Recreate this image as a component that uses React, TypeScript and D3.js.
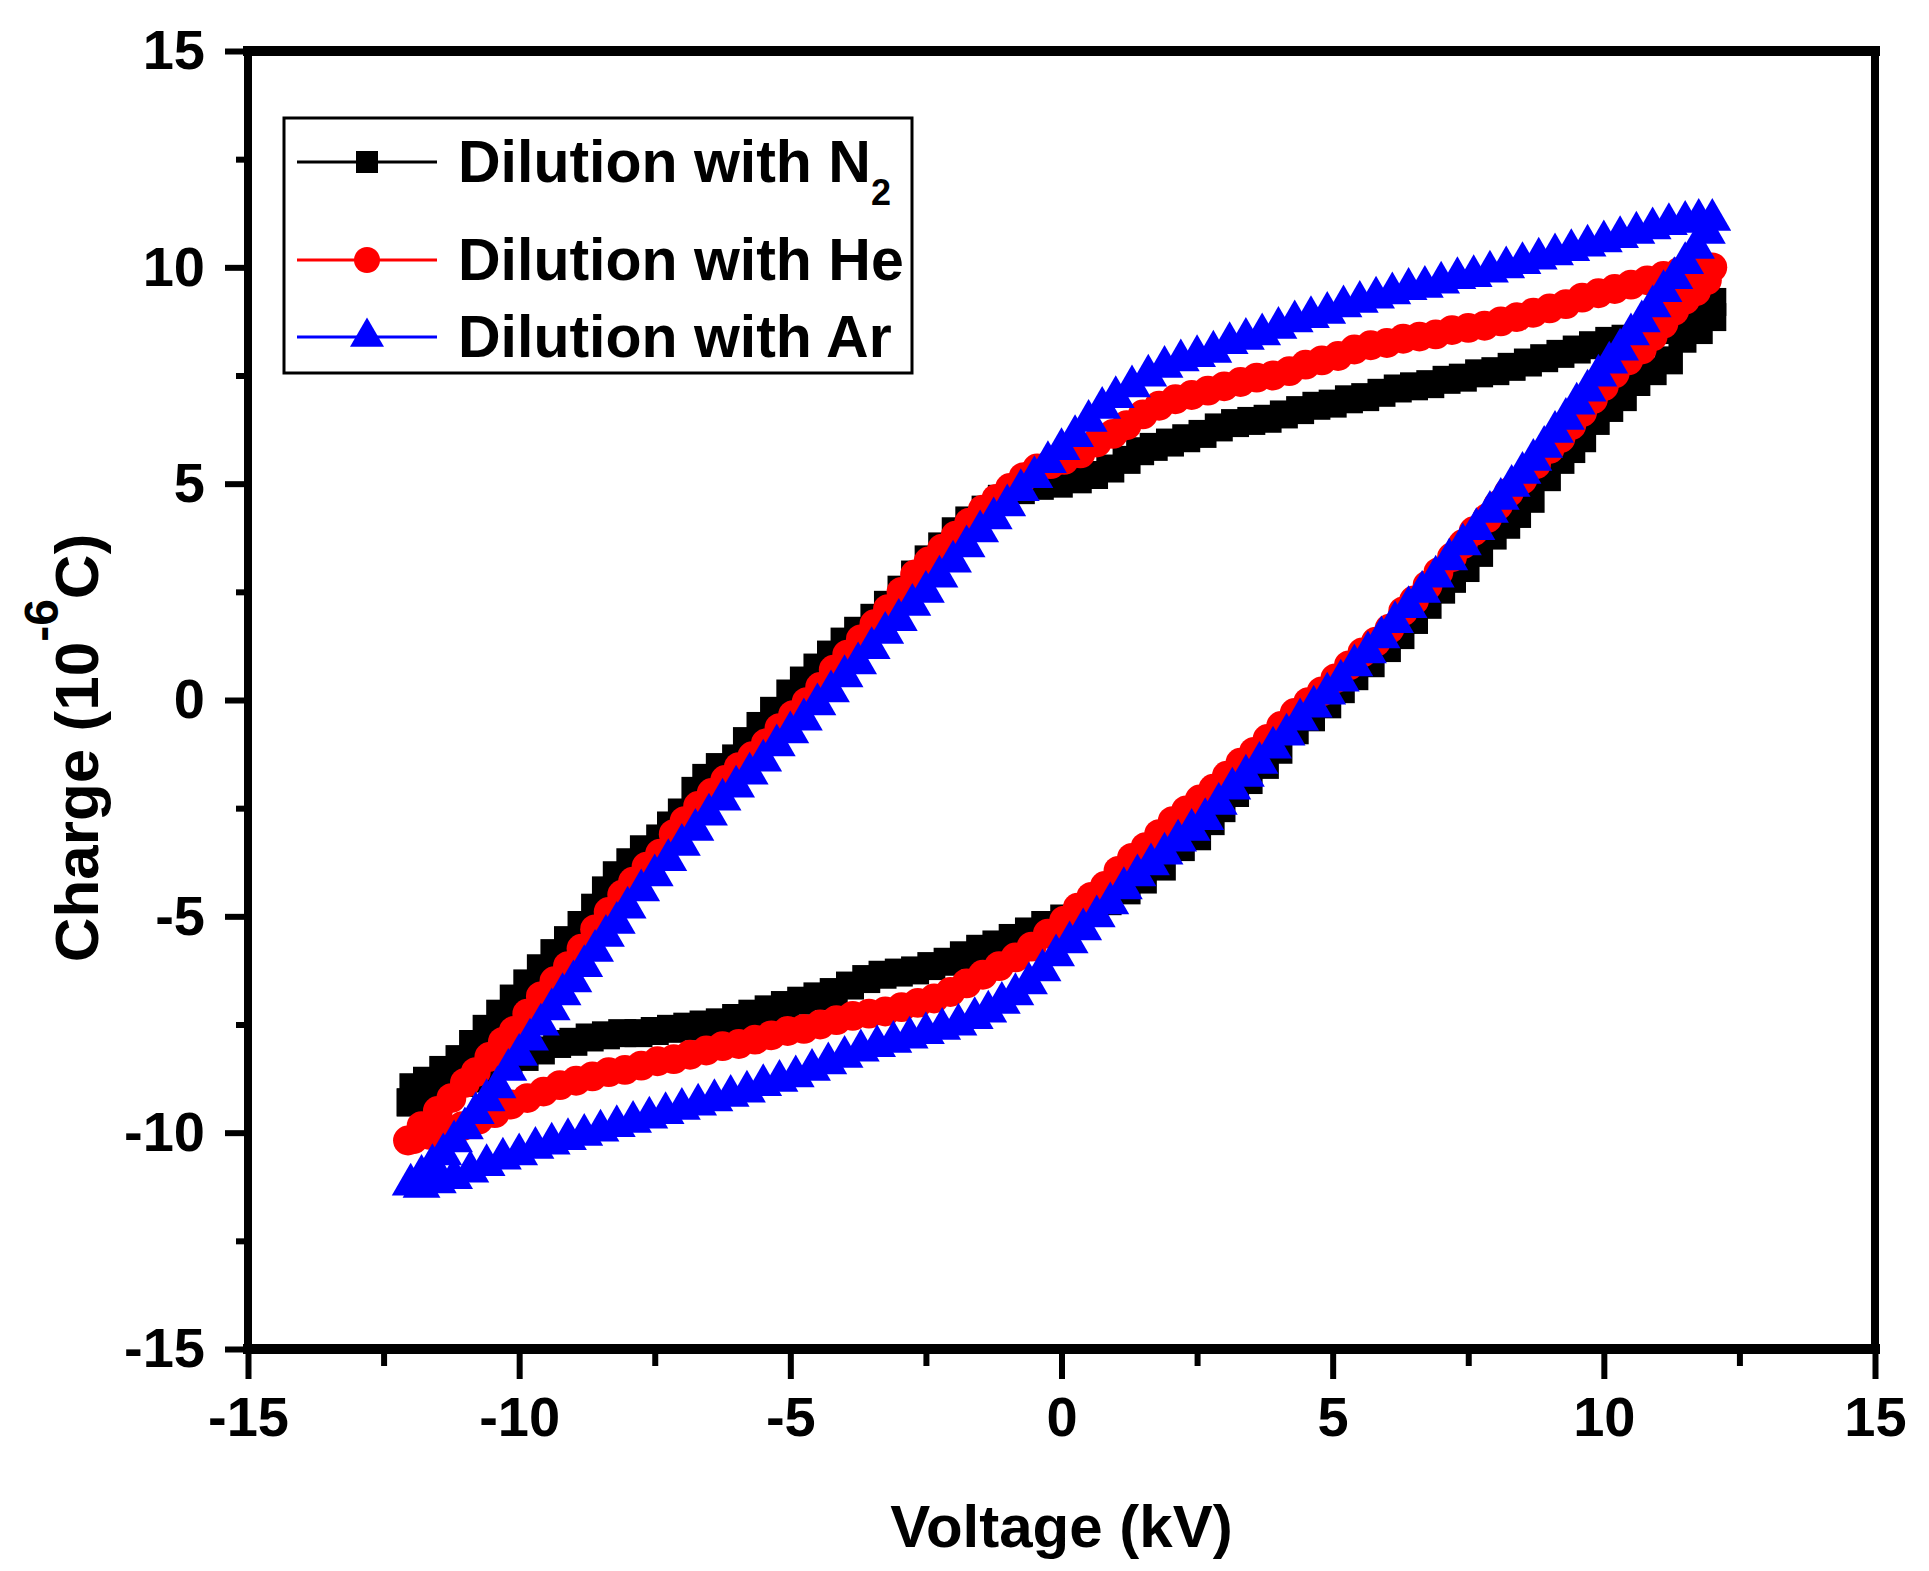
import { useEffect, useRef } from "react";
import * as d3 from "d3";

type Pt = [number, number];

const majorTicks = [-15, -10, -5, 0, 5, 10, 15];
const minorTicks = [-12.5, -7.5, -2.5, 2.5, 7.5, 12.5];

// Dilution with N2 : [voltage kV, charge 1e-6 C]
const n2Loop: Pt[] = [
  [-12.0, -9.3], [-11.95, -8.95], [-11.7, -8.8], [-11.4, -8.55], [-11.1, -8.3], [-10.85, -7.95], [-10.6, -7.6], [-10.35, -7.25],
  [-10.1, -6.9], [-9.85, -6.55], [-9.6, -6.2], [-9.35, -5.85], [-9.1, -5.55], [-8.85, -5.2], [-8.6, -4.8], [-8.4, -4.4],
  [-8.2, -4.05], [-7.95, -3.75], [-7.7, -3.45], [-7.4, -3.2], [-7.2, -2.9], [-7.0, -2.6], [-6.75, -2.1], [-6.55, -1.8],
  [-6.3, -1.55], [-6.0, -1.35], [-5.8, -0.95], [-5.55, -0.6], [-5.3, -0.25], [-5.0, 0.15], [-4.75, 0.45], [-4.5, 0.75],
  [-4.25, 1.05], [-4.0, 1.35], [-3.75, 1.6], [-3.45, 1.9], [-3.2, 2.2], [-2.95, 2.55], [-2.7, 2.9], [-2.45, 3.25],
  [-2.2, 3.55], [-1.95, 3.9], [-1.7, 4.15], [-1.4, 4.4], [-1.1, 4.65], [-0.75, 4.85], [-0.4, 4.95],
  [-0.05, 5.0], [0.3, 5.1], [0.6, 5.2], [0.9, 5.35], [1.2, 5.55], [1.45, 5.75], [1.7, 5.85], [2.0, 5.95],
  [2.3, 6.05], [2.6, 6.15], [2.9, 6.3], [3.2, 6.4], [3.5, 6.45], [3.8, 6.5], [4.1, 6.6], [4.4, 6.7],
  [4.7, 6.8], [5.0, 6.85], [5.3, 6.95], [5.6, 7.0], [5.9, 7.1], [6.2, 7.2], [6.5, 7.25], [6.8, 7.3],
  [7.1, 7.4], [7.4, 7.45], [7.7, 7.55], [8.0, 7.6], [8.3, 7.7], [8.6, 7.8], [8.9, 7.9], [9.2, 8.0],
  [9.5, 8.1], [9.8, 8.2], [10.1, 8.3], [10.4, 8.35], [10.7, 8.45], [11.0, 8.55], [11.3, 8.65], [11.6, 8.8],
  [11.85, 8.95], [12.0, 9.2],
  [12.0, 8.85], [11.75, 8.55], [11.45, 8.35], [11.2, 7.85], [10.9, 7.6], [10.6, 7.35], [10.35, 7.0], [10.1, 6.75],
  [9.85, 6.45], [9.6, 6.05], [9.4, 5.8], [9.2, 5.55], [8.95, 5.15], [8.65, 4.65], [8.4, 4.3], [8.2, 4.05],
  [7.95, 3.8], [7.7, 3.4], [7.45, 3.05], [7.2, 2.8], [7.0, 2.55], [6.75, 2.2], [6.5, 1.85], [6.25, 1.5],
  [6.0, 1.2], [5.7, 0.85], [5.4, 0.55], [5.15, 0.25], [4.9, -0.1], [4.6, -0.4], [4.3, -0.7], [4.0, -1.15],
  [3.75, -1.5], [3.45, -1.85], [3.2, -2.15], [2.95, -2.5], [2.75, -2.8], [2.5, -3.15], [2.2, -3.4], [1.85, -3.85],
  [1.5, -4.15], [1.2, -4.4], [0.85, -4.65], [0.45, -4.85],
  [0.05, -5.05], [-0.3, -5.2], [-0.6, -5.35], [-0.9, -5.5], [-1.2, -5.65], [-1.5, -5.75], [-1.8, -5.9], [-2.1, -6.05],
  [-2.4, -6.15], [-2.7, -6.25], [-3.0, -6.3], [-3.3, -6.35], [-3.6, -6.45], [-3.9, -6.6], [-4.2, -6.75], [-4.5, -6.85],
  [-4.8, -6.95], [-5.1, -7.05], [-5.4, -7.15], [-5.7, -7.25], [-6.0, -7.35], [-6.3, -7.45], [-6.6, -7.5], [-6.9, -7.55],
  [-7.2, -7.6], [-7.5, -7.65], [-7.8, -7.7], [-8.1, -7.7], [-8.4, -7.75], [-8.7, -7.8], [-9.0, -7.9], [-9.3, -7.95],
  [-9.6, -8.1], [-9.9, -8.25], [-10.2, -8.4], [-10.5, -8.55], [-10.8, -8.75], [-11.1, -8.85], [-11.4, -9.0], [-11.7, -9.15],
  [-12.0, -9.3],
];

// Dilution with He
const heLoop: Pt[] = [
  [-12.05, -10.18], [-11.8, -9.85], [-11.5, -9.5], [-11.25, -9.2], [-11.0, -8.85], [-10.8, -8.6], [-10.55, -8.25], [-10.3, -7.9],
  [-10.1, -7.65], [-9.85, -7.25], [-9.6, -6.85], [-9.35, -6.5], [-9.1, -6.15], [-8.85, -5.75], [-8.6, -5.3], [-8.35, -4.9],
  [-8.1, -4.5], [-7.9, -4.2], [-7.65, -3.85], [-7.4, -3.55], [-7.15, -3.1], [-6.95, -2.8], [-6.7, -2.45], [-6.45, -2.15],
  [-6.2, -1.85], [-5.95, -1.55], [-5.7, -1.3], [-5.45, -1.0], [-5.2, -0.65], [-4.95, -0.35], [-4.7, -0.05], [-4.45, 0.3],
  [-4.2, 0.7], [-3.95, 1.05], [-3.7, 1.4], [-3.45, 1.75], [-3.2, 2.1], [-2.95, 2.5], [-2.7, 2.9], [-2.45, 3.2],
  [-2.2, 3.5], [-1.95, 3.8], [-1.7, 4.1], [-1.45, 4.4], [-1.2, 4.65], [-0.95, 4.9], [-0.7, 5.15], [-0.45, 5.35],
  [-0.2, 5.45],
  [0.05, 5.55], [0.35, 5.7], [0.65, 5.95], [0.95, 6.15], [1.2, 6.35], [1.5, 6.6], [1.8, 6.8], [2.1, 6.95],
  [2.4, 7.05], [2.7, 7.15], [3.0, 7.25], [3.3, 7.35], [3.6, 7.45], [3.9, 7.5], [4.2, 7.6], [4.5, 7.75],
  [4.8, 7.85], [5.1, 7.95], [5.4, 8.1], [5.7, 8.2], [6.0, 8.25], [6.3, 8.35], [6.6, 8.4], [6.9, 8.45],
  [7.2, 8.55], [7.5, 8.6], [7.8, 8.65], [8.1, 8.75], [8.4, 8.85], [8.7, 8.95], [9.0, 9.05], [9.3, 9.15],
  [9.6, 9.3], [9.9, 9.4], [10.2, 9.5], [10.5, 9.6], [10.8, 9.7], [11.1, 9.8], [11.4, 9.9], [11.7, 9.95],
  [12.0, 10.0],
  [11.9, 9.7], [11.7, 9.45], [11.5, 9.25], [11.3, 9.0], [11.1, 8.7], [10.9, 8.4], [10.7, 8.1], [10.45, 7.85],
  [10.2, 7.55], [10.0, 7.25], [9.8, 6.95], [9.6, 6.65], [9.4, 6.35], [9.2, 6.05], [9.0, 5.8], [8.75, 5.45],
  [8.5, 5.1], [8.25, 4.8], [8.05, 4.5], [7.85, 4.2], [7.6, 3.9], [7.4, 3.6], [7.2, 3.3], [6.95, 2.95],
  [6.75, 2.65], [6.5, 2.3], [6.3, 2.05], [6.05, 1.65], [5.8, 1.35], [5.55, 1.1], [5.3, 0.8], [5.05, 0.5],
  [4.8, 0.2], [4.55, -0.05], [4.3, -0.3], [4.05, -0.6], [3.8, -0.9], [3.55, -1.2], [3.3, -1.45], [3.05, -1.75],
  [2.8, -2.05], [2.55, -2.3], [2.3, -2.55], [2.05, -2.8], [1.8, -3.1], [1.55, -3.4], [1.3, -3.65], [1.05, -3.95],
  [0.8, -4.3], [0.55, -4.55], [0.3, -4.8], [0.05, -5.1],
  [-0.25, -5.4], [-0.55, -5.7], [-0.85, -5.95], [-1.15, -6.15], [-1.45, -6.35], [-1.75, -6.55], [-2.05, -6.75], [-2.35, -6.9],
  [-2.65, -7.0], [-2.95, -7.1], [-3.25, -7.2], [-3.55, -7.25], [-3.85, -7.3], [-4.15, -7.4], [-4.45, -7.5], [-4.75, -7.6],
  [-5.05, -7.65], [-5.35, -7.75], [-5.65, -7.85], [-5.95, -7.95], [-6.25, -8.0], [-6.55, -8.1], [-6.85, -8.2], [-7.15, -8.3],
  [-7.45, -8.35], [-7.75, -8.45], [-8.05, -8.55], [-8.35, -8.6], [-8.65, -8.7], [-8.95, -8.8], [-9.25, -8.9], [-9.55, -9.05],
  [-9.85, -9.2], [-10.15, -9.35], [-10.45, -9.55], [-10.75, -9.7], [-11.05, -9.85], [-11.35, -9.95], [-11.65, -10.05], [-11.95, -10.15],
];

// Dilution with Ar
const arLoop: Pt[] = [
  [-12.0, -11.2], [-11.8, -11.0], [-11.6, -10.75], [-11.4, -10.5], [-11.2, -10.2], [-11.0, -9.9], [-10.8, -9.55], [-10.6, -9.25],
  [-10.4, -8.95], [-10.2, -8.55], [-10.0, -8.2], [-9.8, -7.85], [-9.6, -7.5], [-9.4, -7.15], [-9.2, -6.8], [-9.0, -6.5],
  [-8.8, -6.15], [-8.6, -5.8], [-8.4, -5.45], [-8.2, -5.15], [-8.0, -4.8], [-7.75, -4.4], [-7.5, -4.05], [-7.25, -3.7],
  [-7.0, -3.35], [-6.75, -3.0], [-6.5, -2.65], [-6.25, -2.3], [-6.0, -2.0], [-5.75, -1.7], [-5.5, -1.4], [-5.25, -1.05],
  [-5.0, -0.75], [-4.75, -0.45], [-4.5, -0.1], [-4.25, 0.2], [-4.0, 0.55], [-3.75, 0.85], [-3.5, 1.2], [-3.25, 1.55],
  [-3.0, 1.85], [-2.75, 2.2], [-2.5, 2.5], [-2.25, 2.85], [-2.0, 3.2], [-1.75, 3.55], [-1.5, 3.9], [-1.25, 4.2],
  [-1.0, 4.5], [-0.75, 4.85], [-0.5, 5.15], [-0.25, 5.5], [0.0, 5.8],
  [0.25, 6.1], [0.5, 6.45], [0.75, 6.75], [1.0, 7.0], [1.3, 7.25], [1.6, 7.5], [1.9, 7.7], [2.2, 7.85],
  [2.5, 7.95], [2.8, 8.05], [3.1, 8.25], [3.4, 8.35], [3.7, 8.45], [4.0, 8.6], [4.3, 8.75], [4.6, 8.85],
  [4.9, 8.95], [5.2, 9.1], [5.5, 9.2], [5.8, 9.3], [6.1, 9.4], [6.4, 9.5], [6.7, 9.55], [7.0, 9.65],
  [7.3, 9.75], [7.6, 9.8], [7.9, 9.9], [8.2, 10.0], [8.5, 10.1], [8.8, 10.2], [9.1, 10.3], [9.4, 10.4],
  [9.7, 10.5], [10.0, 10.6], [10.3, 10.7], [10.6, 10.8], [10.9, 10.9], [11.2, 11.0], [11.5, 11.05], [11.75, 11.1],
  [12.0, 11.1],
  [11.9, 10.8], [11.7, 10.45], [11.5, 10.1], [11.3, 9.75], [11.1, 9.45], [10.9, 9.1], [10.7, 8.75], [10.5, 8.45],
  [10.3, 8.1], [10.1, 7.8], [9.9, 7.5], [9.7, 7.15], [9.5, 6.85], [9.3, 6.5], [9.1, 6.2], [8.9, 5.85],
  [8.7, 5.55], [8.5, 5.25], [8.3, 4.95], [8.1, 4.65], [7.9, 4.35], [7.65, 3.95], [7.4, 3.6], [7.15, 3.25],
  [6.9, 2.85], [6.65, 2.5], [6.4, 2.15], [6.15, 1.8], [5.9, 1.45], [5.65, 1.1], [5.4, 0.8], [5.15, 0.45],
  [4.9, 0.15], [4.65, -0.15], [4.4, -0.45], [4.15, -0.8], [3.9, -1.1], [3.65, -1.45], [3.4, -1.75], [3.15, -2.05],
  [2.9, -2.4], [2.65, -2.75], [2.4, -3.0], [2.15, -3.25], [1.9, -3.55], [1.65, -3.8], [1.4, -4.05], [1.15, -4.35],
  [0.9, -4.7], [0.65, -5.0], [0.4, -5.3], [0.15, -5.6], [-0.1, -5.9],
  [-0.35, -6.25], [-0.6, -6.55], [-0.85, -6.8], [-1.1, -7.0], [-1.35, -7.2], [-1.6, -7.35], [-1.9, -7.5], [-2.2, -7.6],
  [-2.5, -7.7], [-2.8, -7.8], [-3.1, -7.9], [-3.4, -8.0], [-3.7, -8.1], [-4.0, -8.25], [-4.3, -8.4], [-4.6, -8.55],
  [-4.9, -8.7], [-5.2, -8.8], [-5.5, -8.9], [-5.8, -9.05], [-6.1, -9.15], [-6.4, -9.25], [-6.7, -9.35], [-7.0, -9.45],
  [-7.3, -9.55], [-7.6, -9.65], [-7.9, -9.75], [-8.2, -9.85], [-8.5, -9.95], [-8.8, -10.05], [-9.1, -10.15], [-9.4, -10.25],
  [-9.7, -10.35], [-10.0, -10.5], [-10.3, -10.6], [-10.6, -10.75], [-10.9, -10.9], [-11.2, -11.05], [-11.5, -11.15], [-11.8, -11.25],
];

const seriesLabels = ["Dilution with N", "Dilution with He", "Dilution with Ar"];
const seriesColors = ["#000000", "#ff0000", "#0000ff"];

const FONT = "Arial, 'Liberation Sans', sans-serif";

export default function App() {
  const svgRef = useRef<SVGSVGElement>(null);

  useEffect(() => {
    const svg = d3.select(svgRef.current);
    svg.selectAll("*").remove();

    const x = d3.scaleLinear().domain([-15, 15]).range([248, 1875]);
    const y = d3.scaleLinear().domain([-15, 15]).range([1349, 51]);

    const styleAxis = (g: d3.Selection<SVGGElement, unknown, null, undefined>) => {
      g.select(".domain").remove();
      g.selectAll(".tick line").attr("stroke", "#000").attr("stroke-width", 6);
      g.selectAll(".tick text")
        .attr("fill", "#000")
        .attr("font-size", 56)
        .attr("font-weight", "bold")
        .attr("font-family", FONT);
    };

    // bottom axis
    const gx = svg.append("g").attr("transform", `translate(0,${y(-15)})`);
    gx.call(d3.axisBottom(x).tickValues(majorTicks).tickSize(30).tickPadding(17).tickFormat(d => String(d)));
    styleAxis(gx);
    const gxm = svg.append("g").attr("transform", `translate(0,${y(-15)})`);
    gxm.call(d3.axisBottom(x).tickValues(minorTicks).tickSize(17).tickFormat(() => ""));
    styleAxis(gxm);

    // left axis
    const gy = svg.append("g").attr("transform", `translate(${x(-15)},0)`);
    gy.call(d3.axisLeft(y).tickValues(majorTicks).tickSize(23).tickPadding(20).tickFormat(d => String(d)));
    styleAxis(gy);
    const gym = svg.append("g").attr("transform", `translate(${x(-15)},0)`);
    gym.call(d3.axisLeft(y).tickValues(minorTicks).tickSize(12).tickFormat(() => ""));
    styleAxis(gym);

    // frame
    const frame = svg.append("g").attr("stroke", "#000").attr("stroke-linecap", "square");
    frame.append("line").attr("x1", x(-15)).attr("x2", x(15)).attr("y1", y(15)).attr("y2", y(15)).attr("stroke-width", 10);
    frame.append("line").attr("x1", x(-15)).attr("x2", x(15)).attr("y1", y(-15)).attr("y2", y(-15)).attr("stroke-width", 10);
    frame.append("line").attr("x1", x(-15)).attr("x2", x(-15)).attr("y1", y(15)).attr("y2", y(-15)).attr("stroke-width", 8);
    frame.append("line").attr("x1", x(15)).attr("x2", x(15)).attr("y1", y(15)).attr("y2", y(-15)).attr("stroke-width", 8);

    // series
    const line = d3.line<Pt>().x(d => x(d[0])).y(d => y(d[1]));
    const plotSymbols = [
      d3.symbol(d3.symbolSquare, 784),
      d3.symbol(d3.symbolCircle, 700),
      d3.symbol(d3.symbolTriangle, 620),
    ];
    const loops = [n2Loop, heLoop, arLoop];

    loops.forEach((loop, i) => {
      const g = svg.append("g");
      g.append("path")
        .attr("d", line(loop))
        .attr("fill", "none")
        .attr("stroke", seriesColors[i])
        .attr("stroke-width", 3);
      g.selectAll("path.pt")
        .data(loop)
        .join("path")
        .attr("class", "pt")
        .attr("transform", d => `translate(${x(d[0])},${y(d[1])})`)
        .attr("d", plotSymbols[i]())
        .attr("fill", seriesColors[i]);
    });

    // legend
    const legend = svg.append("g");
    legend.append("rect")
      .attr("x", 284).attr("y", 118).attr("width", 628).attr("height", 255)
      .attr("fill", "#fff").attr("stroke", "#000").attr("stroke-width", 3);
    const legendRows = [162, 260, 337];
    const legendSymbols = [
      d3.symbol(d3.symbolSquare, 484),
      d3.symbol(d3.symbolCircle, 530),
      d3.symbol(d3.symbolTriangle, 500),
    ];
    seriesLabels.forEach((label, i) => {
      const ly = legendRows[i];
      legend.append("line")
        .attr("x1", 297).attr("x2", 437).attr("y1", ly).attr("y2", ly)
        .attr("stroke", seriesColors[i]).attr("stroke-width", 3);
      legend.append("path")
        .attr("transform", `translate(367,${ly})`)
        .attr("d", legendSymbols[i]())
        .attr("fill", seriesColors[i]);
      const t = legend.append("text")
        .attr("x", 458).attr("y", ly + 20)
        .attr("font-size", 59).attr("font-weight", "bold").attr("font-family", FONT)
        .attr("fill", "#000")
        .text(label);
      if (i === 0) {
        t.append("tspan").attr("dy", 23).attr("font-size", 36).text("2");
      }
    });

    // axis titles
    svg.append("text")
      .attr("x", (x(-15) + x(15)) / 2).attr("y", 1547)
      .attr("text-anchor", "middle")
      .attr("font-size", 60).attr("font-weight", "bold").attr("font-family", FONT)
      .attr("fill", "#000")
      .text("Voltage (kV)");

    const yt = svg.append("text")
      .attr("transform", `translate(98,${y(0) + 48}) rotate(-90)`)
      .attr("text-anchor", "middle")
      .attr("font-size", 62).attr("font-weight", "bold").attr("font-family", FONT)
      .attr("fill", "#000");
    yt.append("tspan").text("Charge (10");
    yt.append("tspan").attr("dy", -40).attr("font-size", 48).text("-6");
    yt.append("tspan").attr("dy", 40).text("C)");
  }, []);

  return (
    <svg
      ref={svgRef}
      width={1929}
      height={1571}
      style={{ position: "absolute", left: 0, top: 0, background: "#fff" }}
    />
  );
}
